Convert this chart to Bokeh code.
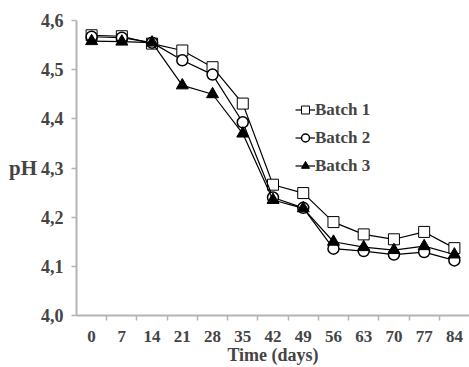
from bokeh.plotting import figure
from bokeh.models import FixedTicker, Range1d, Legend, LegendItem
from bokeh.embed import file_html
from bokeh.resources import INLINE

days = [0, 7, 14, 21, 28, 35, 42, 49, 56, 63, 70, 77, 84]
batch1 = [4.570, 4.568, 4.553, 4.539, 4.505, 4.431, 4.266, 4.249, 4.190, 4.165, 4.155, 4.170, 4.137]
batch2 = [4.567, 4.565, 4.555, 4.519, 4.490, 4.393, 4.240, 4.219, 4.136, 4.131, 4.124, 4.129, 4.112]
batch3 = [4.558, 4.557, 4.555, 4.468, 4.450, 4.370, 4.235, 4.218, 4.150, 4.139, 4.133, 4.141, 4.124]
y_ticks = [4.0, 4.1, 4.2, 4.3, 4.4, 4.5, 4.6]
y_tick_labels = ["4,0", "4,1", "4,2", "4,3", "4,4", "4,5", "4,6"]
names = ["Batch 1", "Batch 2", "Batch 3"]

FONT = "Liberation Serif"
AX = "#b4b4b4"

p = figure(width=469, height=367, output_backend="svg", toolbar_location=None,
           x_range=Range1d(-3.5, 87.5), y_range=Range1d(4.0, 4.6),
           min_border_left=76, min_border_top=20, min_border_bottom=52, min_border_right=0)
p.outline_line_color = None
p.grid.grid_line_color = None

r1l = p.line(days, batch1, line_color="black", line_width=1.2)
r1m = p.scatter(days, batch1, marker="square", size=11, fill_color="white", line_color="black", line_width=1)
r2l = p.line(days, batch2, line_color="black", line_width=1.2)
r2m = p.scatter(days, batch2, marker="circle", size=11, fill_color="white", line_color="black", line_width=1.5)
r3l = p.line(days, batch3, line_color="black", line_width=1.2)
r3m = p.scatter(days, batch3, marker="triangle", size=12, fill_color="black", line_color="black")

# x axis
xa = p.xaxis[0]
minor = [d + 3.5 for d in days[:-1]]
xa.ticker = FixedTicker(ticks=days, minor_ticks=minor)
xa.major_tick_line_color = None
xa.minor_tick_in = 0
xa.minor_tick_out = 5
xa.minor_tick_line_color = AX
xa.minor_tick_line_width = 1.5
xa.axis_line_color = AX
xa.axis_line_width = 2
xa.major_label_text_font = FONT
xa.major_label_text_font_style = "bold"
xa.major_label_text_font_size = "17px"
xa.major_label_standoff = 9
xa.axis_label = "Time (days)"
xa.axis_label_text_font = FONT
xa.axis_label_text_font_style = "bold"
xa.axis_label_text_font_size = "18px"
xa.axis_label_standoff = 0

# y axis
ya = p.yaxis[0]
ya.ticker = FixedTicker(ticks=y_ticks, minor_ticks=[])
ya.major_label_overrides = {t: l for t, l in zip(y_ticks, y_tick_labels)}
ya.major_tick_in = 0
ya.major_tick_out = 5
ya.major_tick_line_color = AX
ya.major_tick_line_width = 1.5
ya.axis_line_color = AX
ya.axis_line_width = 2
ya.major_label_text_font = FONT
ya.major_label_text_font_style = "bold"
ya.major_label_text_font_size = "18px"
ya.major_label_standoff = 8
ya.axis_label = "pH"
ya.axis_label_orientation = "horizontal"
ya.axis_label_text_font = FONT
ya.axis_label_text_font_style = "bold"
ya.axis_label_text_font_size = "21px"
ya.axis_label_standoff = 1

legend = Legend(items=[LegendItem(label=names[0], renderers=[r1l, r1m]),
                       LegendItem(label=names[1], renderers=[r2l, r2m]),
                       LegendItem(label=names[2], renderers=[r3l, r3m])],
                location=(219, 136), border_line_color=None, background_fill_alpha=0,
                padding=0, margin=0, spacing=1, glyph_width=20, glyph_height=27,
                label_standoff=0, label_text_font=FONT, label_text_font_style="bold",
                label_text_font_size="17px", label_height=27)
p.add_layout(legend, "center")

open("out.html", "w").write(file_html(p, INLINE))
